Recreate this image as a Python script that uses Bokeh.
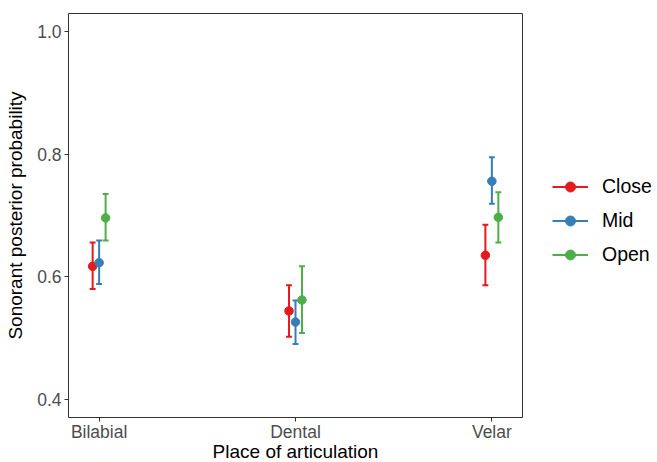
from bokeh.plotting import figure
from bokeh.models import ColumnDataSource, Range1d, FixedTicker, PrintfTickFormatter, Legend, LegendItem
from bokeh.transform import dodge
from bokeh.embed import file_html
from bokeh.resources import INLINE

places = ["Bilabial", "Dental", "Velar"]
place_pos = [1, 2, 3]

series = ["Close", "Mid", "Open"]
colors = ["#E41A1C", "#377EB8", "#4DAF4A"]
offsets = [-0.033, 0.0, 0.033]

close_mean = [0.617, 0.544, 0.635]
close_lo = [0.580, 0.502, 0.586]
close_hi = [0.656, 0.586, 0.685]

mid_mean = [0.623, 0.526, 0.756]
mid_lo = [0.588, 0.490, 0.719]
mid_hi = [0.659, 0.561, 0.795]

open_mean = [0.696, 0.562, 0.697]
open_lo = [0.659, 0.508, 0.656]
open_hi = [0.735, 0.617, 0.738]

y_ticks = [0.4, 0.6, 0.8, 1.0]

FONT = "Liberation Sans"

p = figure(frame_width=454, frame_height=404,
           x_range=Range1d(0.844, 3.156), y_range=Range1d(0.37, 1.03),
           output_backend="svg", toolbar_location=None,
           min_border_left=68, min_border_top=13, min_border_right=135,
           min_border_bottom=45)
p.background_fill_color = "white"
p.border_fill_color = "white"
p.outline_line_color = "#333333"
p.outline_line_width = 1
p.xgrid.visible = False
p.ygrid.visible = False

data = [(close_mean, close_lo, close_hi), (mid_mean, mid_lo, mid_hi), (open_mean, open_lo, open_hi)]
items = []
cap = 0.015
for name, col, off, (m, lo, hi) in zip(series, colors, offsets, data):
    src = ColumnDataSource(dict(x=place_pos, m=m, lo=lo, hi=hi))
    bar = p.segment(x0=dodge("x", off), x1=dodge("x", off), y0="lo", y1="hi",
                    source=src, line_color=col, line_width=2)
    p.segment(x0=dodge("x", off - cap), x1=dodge("x", off + cap), y0="lo", y1="lo",
              source=src, line_color=col, line_width=2)
    p.segment(x0=dodge("x", off - cap), x1=dodge("x", off + cap), y0="hi", y1="hi",
              source=src, line_color=col, line_width=2)
    pt = p.scatter(x=dodge("x", off), y="m", source=src, size=8.5,
                   fill_color=col, line_color=col)
    items.append(LegendItem(label=name, renderers=[bar, pt]))

legend = Legend(items=items, location=(30, 150), orientation="vertical")
legend.padding = 0
legend.margin = 0
legend.spacing = 9
legend.glyph_width = 36
legend.glyph_height = 25
legend.label_height = 25
legend.label_standoff = 14
legend.label_text_font = FONT
legend.label_text_font_size = "19.5px"
legend.label_text_color = "black"
legend.border_line_color = None
legend.background_fill_alpha = 0
p.add_layout(legend, "right")

p.xaxis.ticker = FixedTicker(ticks=place_pos)
p.xaxis.major_label_overrides = {i: s for i, s in zip(place_pos, places)}
p.yaxis.ticker = FixedTicker(ticks=y_ticks)
p.yaxis.formatter = PrintfTickFormatter(format="%.1f")

p.xaxis.axis_label = "Place of articulation"
p.yaxis.axis_label = "Sonorant posterior probability"

for ax in (p.xaxis, p.yaxis):
    ax.axis_line_color = None
    ax.major_tick_line_color = "#333333"
    ax.major_tick_in = 0
    ax.major_tick_out = 4
    ax.minor_tick_line_color = None
    ax.major_label_text_font = FONT
    ax.major_label_text_font_size = "17.5px"
    ax.major_label_text_color = "#4D4D4D"
    ax.axis_label_text_font = FONT
    ax.axis_label_text_font_size = "19px"
    ax.axis_label_text_font_style = "normal"
    ax.axis_label_text_color = "black"

p.xaxis.major_label_standoff = 0
p.xaxis.axis_label_standoff = -4
p.yaxis.major_label_standoff = 3
p.yaxis.axis_label_standoff = 8

open("out.html", "w").write(file_html(p, INLINE))
